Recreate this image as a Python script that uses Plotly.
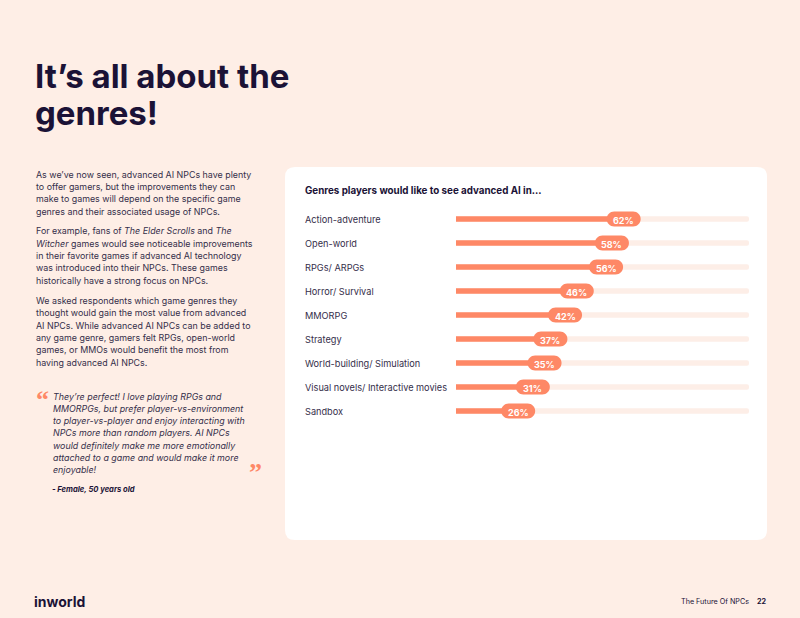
import plotly.graph_objects as go

# ---------------- data ----------------
genres = [
    "Action-adventure",
    "Open-world",
    "RPGs/ ARPGs",
    "Horror/ Survival",
    "MMORPG",
    "Strategy",
    "World-building/ Simulation",
    "Visual novels/ Interactive movies",
    "Sandbox",
]
shares = [62, 58, 56, 46, 42, 37, 35, 31, 26]
scale_max = 100

title_lines = ["It’s all about the", "genres!"]
chart_title = "Genres players would like to see advanced AI in..."
paragraphs = [
    ["As we’ve now seen, advanced AI NPCs have plenty",
     "to offer gamers, but the improvements they can",
     "make to games will depend on the specific game",
     "genres and their associated usage of NPCs."],
    ["For example, fans of <i>The Elder Scrolls</i> and <i>The</i>",
     "<i>Witcher</i> games would see noticeable improvements",
     "in their favorite games if advanced AI technology",
     "was introduced into their NPCs. These games",
     "historically have a strong focus on NPCs."],
    ["We asked respondents which game genres they",
     "thought would gain the most value from advanced",
     "AI NPCs. While advanced AI NPCs can be added to",
     "any game genre, gamers felt RPGs, open-world",
     "games, or MMOs would benefit the most from",
     "having advanced AI NPCs."],
]
quote_lines = [
    "They’re perfect! I love playing RPGs and",
    "MMORPGs, but prefer player-vs-environment",
    "to player-vs-player and enjoy interacting with",
    "NPCs more than random players. AI NPCs",
    "would definitely make me more emotionally",
    "attached to a game and would make it more",
    "enjoyable!",
]
quote_author = "- Female, 50 years old"
footer_left = "inworld"
footer_right = "The Future Of NPCs"
page_no = "22"

# ---------------- style ----------------
W, H = 800, 618
BG = "#FEEEE6"
DARK = "#1B1236"
TEXT = "#352E4A"
ORANGE = "#FE8866"
TRACK = "#FDEEE7"
FONT = "Inter"
LINE = 12.35


def px(x):
    return x / W


def py(y):
    return 1 - y / H


fig = go.Figure()

n = len(genres)
idx = list(range(n))

fig.add_trace(go.Bar(
    y=idx, x=[scale_max] * n, orientation="h", width=0.22,
    marker=dict(color=TRACK, cornerradius="50%", line=dict(width=0)),
    hoverinfo="skip", showlegend=False,
))
fig.add_trace(go.Bar(
    y=idx, x=shares, orientation="h", width=0.22,
    marker=dict(color=ORANGE, cornerradius="50%", line=dict(width=0)),
    hoverinfo="skip", showlegend=False,
))

shapes = []
x0, y0, x1, y1, r = 285, 167, 767, 540, 10


def P(x, y):
    return f"{px(x):.5f},{py(y):.5f}"


card = (f"M {P(x0 + r, y0)} L {P(x1 - r, y0)} Q {P(x1, y0)} {P(x1, y0 + r)} "
        f"L {P(x1, y1 - r)} Q {P(x1, y1)} {P(x1 - r, y1)} L {P(x0 + r, y1)} "
        f"Q {P(x0, y1)} {P(x0, y1 - r)} L {P(x0, y0 + r)} Q {P(x0, y0)} {P(x0 + r, y0)} Z")
shapes.append(dict(type="path", xref="paper", yref="paper", path=card,
                   fillcolor="white", line=dict(width=0), layer="below"))

cx, hw, hh = -14, 17, 7.5
k = 0.5523
a = cx + hw - hh
b = cx - hw + hh
rr = hh
pill = (f"M {b},{-rr} L {a},{-rr} "
        f"C {a + k * rr},{-rr} {a + rr},{-k * rr} {a + rr},0 "
        f"C {a + rr},{k * rr} {a + k * rr},{rr} {a},{rr} "
        f"L {b},{rr} "
        f"C {b - k * rr},{rr} {b - rr},{k * rr} {b - rr},0 "
        f"C {b - rr},{-k * rr} {b - k * rr},{-rr} {b},{-rr} Z")
for i, v in enumerate(shares):
    shapes.append(dict(type="path", xref="x", yref="y", xsizemode="pixel",
                       ysizemode="pixel", xanchor=v, yanchor=i, path=pill,
                       fillcolor=ORANGE, line=dict(width=0), layer="above"))

ann = []


def text(x, y, t, size, color=TEXT, family=FONT, anchor="left"):
    ann.append(dict(x=px(x), y=py(y), xref="paper", yref="paper", text=t,
                    showarrow=False, xanchor=anchor, yanchor="middle",
                    font=dict(family=family, size=size, color=color)))


for i, (g, v) in enumerate(zip(genres, shares)):
    ann.append(dict(x=px(303), xref="paper", y=i, yref="y", text=g, showarrow=False,
                    xanchor="left", yanchor="middle",
                    font=dict(family=FONT, size=9.2, color=TEXT)))
    ann.append(dict(x=v, xref="x", y=i, yref="y", text=f"<b>{v}%</b>", showarrow=False,
                    xanchor="center", yanchor="middle", xshift=cx, yshift=-1,
                    font=dict(family=FONT, size=9, color="white")))

text(303, 190, f"<b>{chart_title}</b>", 9.8, DARK)

# title
text(33, 76, f"<b>{title_lines[0]}</b>", 33, DARK)
text(33, 113, f"<b>{title_lines[1]}</b>", 33, DARK)

# paragraphs
for lines, ystart in zip(paragraphs, [174, 230.7, 300.3]):
    for j, ln in enumerate(lines):
        text(34, ystart + j * LINE, ln, 8.9)

# quote
for j, ln in enumerate(quote_lines):
    text(51, 396 + j * 12.3, f"<i>{ln}</i>", 8.9)
text(34, 399, "<b>“</b>", 26, ORANGE, "Liberation Serif")
text(247, 472, "<b>”</b>", 26, ORANGE, "Liberation Serif")
text(50, 489, f"<b><i>{quote_author}</i></b>", 7.6, DARK)

# footer
text(32, 601, f"<b>{footer_left}</b>", 14, DARK)
text(679, 601, footer_right, 7.2, DARK)
text(755, 601, f"<b>{page_no}</b>", 7.2, DARK)

fig.update_layout(
    width=W, height=H,
    margin=dict(l=0, r=0, t=0, b=0),
    paper_bgcolor=BG, plot_bgcolor="rgba(0,0,0,0)",
    barmode="overlay",
    xaxis=dict(domain=[px(456), px(749)], range=[0, scale_max], visible=False, fixedrange=True),
    yaxis=dict(domain=[py(423), py(207)], range=[n - 0.5, -0.5], visible=False, fixedrange=True),
    shapes=shapes, annotations=ann,
    showlegend=False,
)

fig.write_html("out.html")
